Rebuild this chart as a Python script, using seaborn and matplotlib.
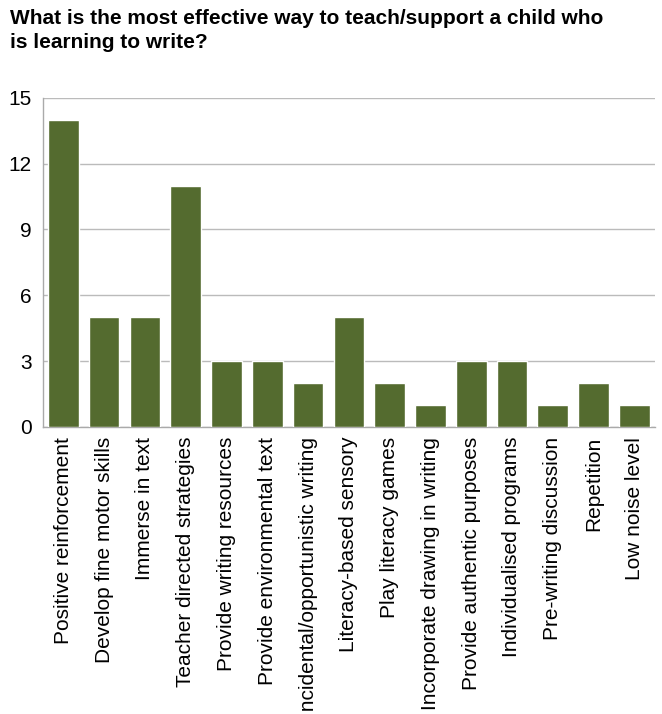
import numpy as np
import pandas as pd
import matplotlib
matplotlib.use("Agg")
import matplotlib.pyplot as plt
import seaborn as sns

categories = [
    "Positive reinforcement",
    "Develop fine motor skills",
    "Immerse in text",
    "Teacher directed strategies",
    "Provide writing resources",
    "Provide environmental text",
    "Incidental/opportunistic writing",
    "Literacy-based sensory",
    "Play literacy games",
    "Incorporate drawing in writing",
    "Provide authentic purposes",
    "Individualised programs",
    "Pre-writing discussion",
    "Repetition",
    "Low noise level",
]
counts = [14, 5, 5, 11, 3, 3, 2, 5, 2, 1, 3, 3, 1, 2, 1]
y_ticks = [0, 3, 6, 9, 12, 15]

sns.set_style("white")
plt.rcParams["font.family"] = ["Liberation Sans", "DejaVu Sans"]
plt.rcParams["text.color"] = "black"
plt.rcParams["xtick.color"] = "black"
plt.rcParams["ytick.color"] = "black"

df = pd.DataFrame({"category": categories, "count": counts})

fig = plt.figure(figsize=(6.62, 7.14), dpi=100)
ax = fig.add_axes([0.065, 0.402, 0.924, 0.461])

sns.barplot(data=df, x="category", y="count", color="#546B2F", width=0.75,
            saturation=1, ax=ax, zorder=3)

ax.set_ylim(0, 15)
ax.set_xlim(-0.5, len(categories) - 0.5)
ax.set_yticks(y_ticks)
ax.set_yticklabels([str(v) for v in y_ticks], fontsize=15)
ax.yaxis.grid(True, color="#BBBBBB", linewidth=1, zorder=0)
ax.set_xlabel("")
ax.set_ylabel("")

ax.set_xticks(range(len(categories)))
ax.set_xticklabels(categories, rotation=90, fontsize=15, va="top", ha="center")
ax.set_xticks(np.arange(-0.5, len(categories), 1), minor=True)
ax.tick_params(axis="x", which="major", length=0, pad=7)
ax.tick_params(axis="x", which="minor", length=6, color="#BBBBBB", width=1)
ax.tick_params(axis="y", length=0, pad=8)

for side in ["top", "right"]:
    ax.spines[side].set_visible(False)
for side in ["left", "bottom"]:
    ax.spines[side].set_color("#AAAAAA")
    ax.spines[side].set_linewidth(1)

fig.text(0.015, 0.988, "What is the most effective way to teach/support a child who\nis learning to write?",
         fontsize=15, fontweight="bold", ha="left", va="top", linespacing=1.35)

fig.savefig("out.png", dpi=100)
